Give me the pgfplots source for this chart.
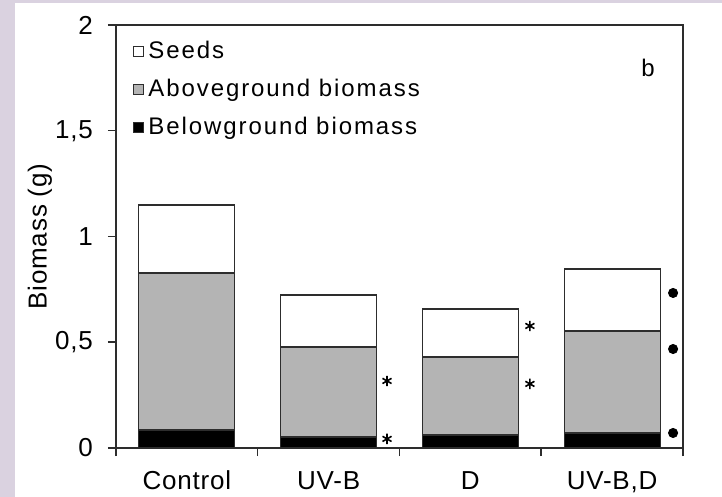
\documentclass[border=0pt]{standalone}
\usepackage{fontspec}
\setmainfont{Liberation Sans}
\usepackage{pgfplots}
\pgfplotsset{compat=1.18}
\definecolor{lav}{RGB}{218,210,224}
\definecolor{midgray}{RGB}{180,180,180}
\definecolor{edge}{RGB}{45,45,45}
\newcommand{\axfont}{\fontsize{13}{15}\selectfont\addfontfeatures{LetterSpace=3}}
\newcommand{\legfont}{\fontsize{12}{14}\selectfont\addfontfeatures{LetterSpace=8}}
\begin{document}
\begin{tikzpicture}
\path[use as bounding box] (-58pt,-24.5pt) rectangle (303pt,224pt);
\fill[lav] (-58pt,-24.5pt) rectangle (303pt,224pt);
\fill[white] (-50.5pt,-24.5pt) rectangle (303pt,222.5pt);
\pgfplotsset{sq legend/.style={legend image code/.code={\draw[##1,draw=edge,line width=0.5pt] (0pt,-2.5pt) rectangle (5pt,2.5pt);}}}
\begin{axis}[
  at={(0,0)}, anchor=south west,
  scale only axis, width=283.5pt, height=211.5pt,
  xmin=-0.5, xmax=3.5, ymin=0, ymax=2,
  ybar stacked, bar width=0.677,
  axis line style={draw=edge, line width=0.8pt},
  tick style={draw=edge, line width=0.75pt},
  tick align=outside, major tick length=4pt,
  xtick pos=bottom, ytick pos=left,
  xtick={-0.5,0.5,1.5,2.5,3.5}, xticklabels={},
  extra x ticks={0,1,2,3},
  extra x tick labels={Control,UV-B,D,{UV-B,D}},
  extra x tick style={tick style={draw=none}, xticklabel style={anchor=base, yshift=-16.5pt}},
  ytick={0,0.5,1,1.5,2}, yticklabels={0,{0,5},1,{1,5},2},
  yticklabel style={xshift=-4pt},
  ticklabel style={font=\axfont},
  ylabel={Biomass (g)},
  every axis y label/.style={at={(axis description cs:-0.134,0.5)}, rotate=90, anchor=center, font=\axfont},
  reverse legend,
  legend cell align=left,
  legend style={draw=none, fill=none, at={(0.03,0.973)}, anchor=north west, inner sep=0pt, row sep=5pt, font=\legfont},
]
\addplot[fill=black, draw=edge, line width=0.6pt, sq legend] coordinates {(0,0.085) (1,0.052) (2,0.061) (3,0.071)};
\addlegendentry{Belowground biomass}
\addplot[fill=midgray, draw=edge, line width=0.6pt, sq legend] coordinates {(0,0.742) (1,0.426) (2,0.369) (3,0.482)};
\addlegendentry{Aboveground biomass}
\addplot[fill=white, draw=edge, line width=0.6pt, sq legend] coordinates {(0,0.322) (1,0.245) (2,0.227) (3,0.293)};
\addlegendentry{Seeds}
\node[font=\fontsize{12}{14}\selectfont] at (axis cs:3.253,1.797) {b};
\end{axis}
\begin{axis}[
  at={(0,0)}, anchor=south west,
  scale only axis, width=283.5pt, height=211.5pt,
  xmin=-0.5, xmax=3.5, ymin=0, ymax=2, hide axis,
]
\addplot[only marks, mark=asterisk, mark size=2.6pt, mark options={line width=0.8pt, draw=black}] coordinates {(1.412,0.317) (1.412,0.043) (2.42,0.577) (2.42,0.303)};
\addplot[only marks, mark=*, mark size=2.3pt, mark options={fill=black, draw=black}] coordinates {(3.43,0.733) (3.43,0.468) (3.43,0.071)};
\end{axis}
\end{tikzpicture}
\end{document}
